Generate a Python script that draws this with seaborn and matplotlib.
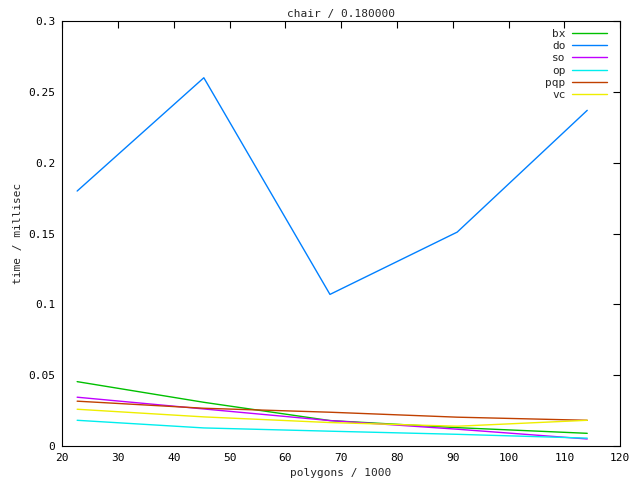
import matplotlib
matplotlib.use('Agg')
import matplotlib.pyplot as plt
import seaborn as sns
import pandas as pd
from matplotlib.ticker import MultipleLocator, FuncFormatter

sns.set_style('white')
plt.rcParams['font.family'] = ['DejaVu Sans Mono']

# polygons / 1000
polygons = [22.7, 45.4, 68.0, 90.8, 114.1]

# time / millisec per method
bx = [0.0454, 0.0308, 0.0179, 0.0129, 0.0089]
do = [0.180, 0.260, 0.107, 0.151, 0.237]
so = [0.0344, 0.0261, 0.0179, 0.0118, 0.0049]
op = [0.0181, 0.0127, 0.0104, 0.0082, 0.0055]
pqp = [0.0316, 0.0266, 0.0238, 0.0203, 0.0181]
vc = [0.0259, 0.0205, 0.0165, 0.0139, 0.0181]

names = ['bx', 'do', 'so', 'op', 'pqp', 'vc']
series = [bx, do, so, op, pqp, vc]
colors = ['#00c000', '#0080ff', '#c000ff', '#00eeee', '#c04000', '#eeee00']

rows = []
for name, vals in zip(names, series):
    for x, y in zip(polygons, vals):
        rows.append({'polygons': x, 'time': y, 'method': name})
df = pd.DataFrame(rows)

fig = plt.figure(figsize=(6.4, 4.8), dpi=100)
ax = fig.add_axes([0.097, 0.071, 0.872, 0.885])

sns.lineplot(data=df, x='polygons', y='time', hue='method', hue_order=names,
             palette=dict(zip(names, colors)), sort=False, linewidth=1,
             ax=ax)

ax.set_xlim(20, 120)
ax.set_ylim(0, 0.3)
ax.xaxis.set_major_locator(MultipleLocator(10))
ax.yaxis.set_major_locator(MultipleLocator(0.05))
ax.yaxis.set_major_formatter(FuncFormatter(lambda v, p: '%g' % round(v, 4)))
ax.tick_params(direction='in', length=5, width=0.8, top=True, right=True,
               labelsize=8, colors='black', pad=5)
for s in ax.spines.values():
    s.set_color('black')
    s.set_linewidth(0.8)

ax.set_title('chair / 0.180000', fontsize=8, pad=3)
ax.set_xlabel('polygons / 1000', fontsize=8)
ax.set_ylabel('time / millisec', fontsize=8)

leg = ax.legend(loc='upper right', bbox_to_anchor=(0.990, 1.0),
                frameon=False, markerfirst=False,
                fontsize=8, handlelength=3.1, labelspacing=0.2,
                borderaxespad=0.3, handletextpad=0.6)
for t in leg.get_texts():
    t.set_ha('right')

fig.savefig('out.png', dpi=100)
